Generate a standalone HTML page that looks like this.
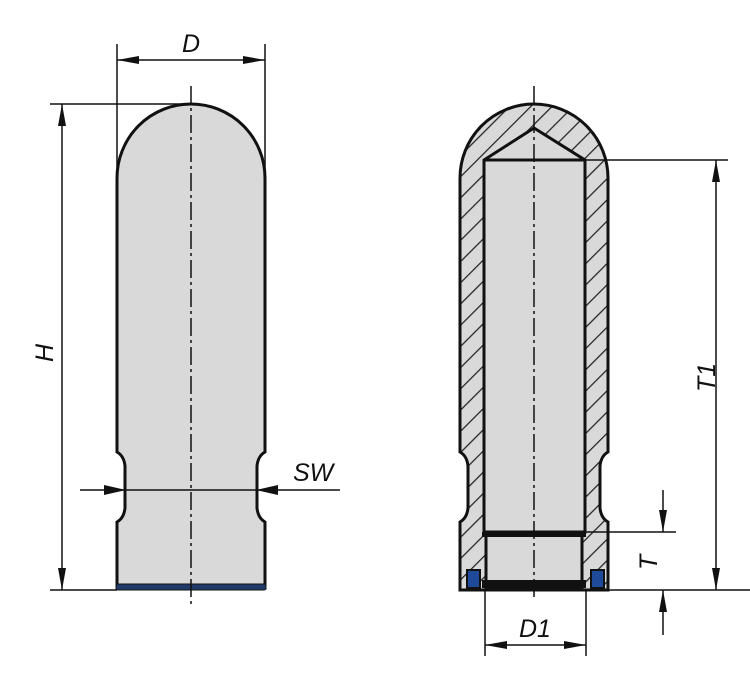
<!DOCTYPE html>
<html><head><style>body{margin:0;background:#fff}svg{display:block}</style></head><body>
<svg width="750" height="678" viewBox="0 0 750 678" xmlns="http://www.w3.org/2000/svg">
<defs>
<pattern id="h" patternUnits="userSpaceOnUse" width="15" height="15" patternTransform="rotate(45)">
<rect width="15" height="15" fill="#d9d9d9"/><line x1="0" y1="0" x2="0" y2="15" stroke="#222" stroke-width="2.5"/>
</pattern>
<marker id="a" viewBox="0 0 22 10" refX="22" refY="5" markerWidth="22" markerHeight="10" markerUnits="userSpaceOnUse" orient="auto-start-reverse"><path d="M0,1 L22,5 L0,9z" fill="#111"/></marker>
</defs>
<g font-family="'Liberation Sans', sans-serif" font-style="italic" font-size="25" fill="#111">
<!-- LEFT -->
<path d="M117,178 A74,74 0 0 1 265,178 L265,452 Q258,456 257,466 L257,508 Q258,518 265,522 L265,588 L117,588 L117,522 Q124,518 125,508 L125,466 Q124,456 117,452 Z" fill="#d9d9d9" stroke="#111" stroke-width="3"/>
<rect x="116" y="584" width="150" height="6" rx="2" fill="#1f3a6a" stroke="#111" stroke-width="1"/>
<line x1="191" y1="86" x2="191" y2="606" stroke="#111" stroke-width="1.5" stroke-dasharray="18,4,3,4"/>
<line x1="117" y1="44" x2="117" y2="178" stroke="#111" stroke-width="1.5"/>
<line x1="265" y1="44" x2="265" y2="178" stroke="#111" stroke-width="1.5"/>
<line x1="117" y1="60" x2="265" y2="60" stroke="#111" stroke-width="1.5" marker-start="url(#a)" marker-end="url(#a)"/>
<text x="182" y="52">D</text>
<line x1="50" y1="104" x2="191" y2="104" stroke="#111" stroke-width="1.5"/>
<line x1="50" y1="590" x2="117" y2="590" stroke="#111" stroke-width="1.5"/>
<line x1="62" y1="104" x2="62" y2="590" stroke="#111" stroke-width="1.5" marker-start="url(#a)" marker-end="url(#a)"/>
<text transform="translate(53,362) rotate(-90)">H</text>
<line x1="80" y1="490" x2="340" y2="490" stroke="#111" stroke-width="1.5"/>
<path d="M104,485 L126,490 L104,495z M278,485 L256,490 L278,495z" fill="#111"/>
<text x="293" y="481">SW</text>
<!-- RIGHT -->
<path d="M460,178 A74,74 0 0 1 608,178 L608,452 Q601,456 600,466 L600,508 Q601,518 608,522 L608,590 L460,590 L460,522 Q467,518 468,508 L468,466 Q467,456 460,452 Z" fill="url(#h)" stroke="#111" stroke-width="3"/>
<path d="M484,160 L534,128 L585,160 L585,532 L484,532 Z" fill="#d9d9d9" stroke="#111" stroke-width="3"/>
<line x1="484" y1="160" x2="585" y2="160" stroke="#111" stroke-width="3"/>
<rect x="486" y="535" width="96" height="52" fill="#d9d9d9" stroke="#111" stroke-width="3"/>
<rect x="482" y="532" width="104" height="5" fill="#111"/>
<rect x="482" y="580" width="104" height="8" fill="#111"/>
<rect x="467" y="570" width="13" height="18" fill="#1f4a9a" stroke="#111" stroke-width="2"/>
<rect x="591" y="570" width="13" height="18" fill="#1f4a9a" stroke="#111" stroke-width="2"/>
<line x1="460" y1="590" x2="608" y2="590" stroke="#111" stroke-width="3"/>
<line x1="534" y1="86" x2="534" y2="600" stroke="#111" stroke-width="1.5" stroke-dasharray="18,4,3,4"/>
<line x1="585" y1="160" x2="728" y2="160" stroke="#111" stroke-width="1.5"/>
<line x1="608" y1="590" x2="750" y2="590" stroke="#111" stroke-width="1.5"/>
<line x1="716" y1="160" x2="716" y2="590" stroke="#111" stroke-width="1.5" marker-start="url(#a)" marker-end="url(#a)"/>
<text transform="translate(715,392) rotate(-90)">T1</text>
<line x1="585" y1="532" x2="676" y2="532" stroke="#111" stroke-width="1.5"/>
<line x1="663" y1="490" x2="663" y2="532" stroke="#111" stroke-width="1.5" marker-end="url(#a)"/>
<line x1="663" y1="635" x2="663" y2="590" stroke="#111" stroke-width="1.5" marker-end="url(#a)"/>
<text transform="translate(657,570) rotate(-90)">T</text>
<line x1="485" y1="590" x2="485" y2="656" stroke="#111" stroke-width="1.5"/>
<line x1="586" y1="590" x2="586" y2="656" stroke="#111" stroke-width="1.5"/>
<line x1="485" y1="645" x2="586" y2="645" stroke="#111" stroke-width="1.5" marker-start="url(#a)" marker-end="url(#a)"/>
<text x="519" y="637">D1</text>
</g>
</svg>
</body></html>
